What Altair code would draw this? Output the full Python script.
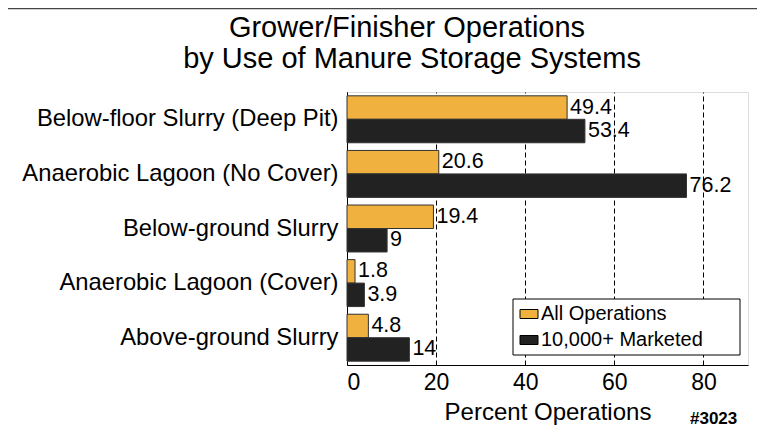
import altair as alt
import pandas as pd

categories = ["Below-floor Slurry (Deep Pit)", "Anaerobic Lagoon (No Cover)",
              "Below-ground Slurry", "Anaerobic Lagoon (Cover)", "Above-ground Slurry"]
series = ["All Operations", "10,000+ Marketed"]
all_ops = [49.4, 20.6, 19.4, 1.8, 4.8]
marketed = [53.4, 76.2, 9, 3.9, 14]
labels_all = ["49.4", "20.6", "19.4", "1.8", "4.8"]
labels_mkt = ["53.4", "76.2", "9", "3.9", "14"]
title_lines = ["Grower/Finisher Operations", "by Use of Manure Storage Systems"]
colors = ["#F0B13F", "#222222"]

rows = []
for c, a, m, la, lm in zip(categories, all_ops, marketed, labels_all, labels_mkt):
    rows.append({"cat": c, "series": series[0], "value": a, "label": la})
    rows.append({"cat": c, "series": series[1], "value": m, "label": lm})
df = pd.DataFrame(rows)

FONT = "Liberation Sans"

y_enc = alt.Y("cat:N", sort=categories, title=None,
              scale=alt.Scale(paddingInner=0.14, paddingOuter=0.07),
              axis=alt.Axis(labelFontSize=23.8, labelFont=FONT, labelColor="black",
                            ticks=False, labelPadding=9, domainColor="black",
                            labelLimit=400))
yoff = alt.YOffset("series:N", sort=series)

bars = alt.Chart(df).mark_bar(stroke="#333333", strokeWidth=1).encode(
    x=alt.X("value:Q", title="Percent Operations",
            scale=alt.Scale(domain=[0, 90], nice=False),
            axis=alt.Axis(values=[0, 20, 40, 60, 80], labelFontSize=23, labelFont=FONT,
                          labelColor="black", titleFontSize=24, titleFont=FONT,
                          titleFontWeight="normal", titleColor="black", titlePadding=6,
                          ticks=False, labelPadding=6, domainColor="black",
                          grid=True, gridColor="black", gridDash=[5, 3], gridWidth=1)),
    y=y_enc,
    yOffset=yoff,
    color=alt.Color("series:N", sort=series,
                    scale=alt.Scale(domain=series, range=colors),
                    legend=alt.Legend(title=None, orient="none", legendX=172, legendY=212,
                                      labelFontSize=20, labelFont=FONT, labelColor="black",
                                      labelLimit=400,
                                      symbolType="M-1,-0.5H1V0.5H-1Z", symbolSize=324,
                                      symbolStrokeColor="black", symbolStrokeWidth=1,
                                      padding=0, rowPadding=6, symbolOffset=0,
                                      labelOffset=2)),
)

texts = alt.Chart(df).mark_text(align="left", baseline="middle", dx=3, fontSize=21.5,
                                font=FONT, color="black").encode(
    x="value:Q",
    y=alt.Y("cat:N", sort=categories),
    yOffset=yoff,
    text="label:N",
)

legend_frame = alt.Chart(pd.DataFrame({"a": [0]})).mark_rect(
    fill="white", stroke="black", strokeWidth=1).encode(
    x=alt.value(166), x2=alt.value(393), y=alt.value(207), y2=alt.value(263))

topline = alt.Chart(pd.DataFrame({"a": [0]})).mark_rule(color="#444444", strokeWidth=1.5).encode(
    x=alt.value(-339), x2=alt.value(410), y=alt.value(-83.5))

title1 = alt.Chart(pd.DataFrame({"t": [title_lines[0]]})).mark_text(
    align="center", baseline="alphabetic", fontSize=29, font=FONT, color="black").encode(
    x=alt.value(60), y=alt.value(-55), text="t:N")
title2 = alt.Chart(pd.DataFrame({"t": [title_lines[1]]})).mark_text(
    align="center", baseline="alphabetic", fontSize=29, font=FONT, color="black").encode(
    x=alt.value(65), y=alt.value(-24), text="t:N")

ref = alt.Chart(pd.DataFrame({"t": ["#3023"]})).mark_text(
    align="left", baseline="alphabetic", fontSize=17, font=FONT, fontWeight="bold",
    color="black").encode(x=alt.value(343), y=alt.value(332), text="t:N")

chart = alt.layer(bars, texts, legend_frame, topline, title1, title2, ref).properties(
    width=401, height=273,
    autosize=alt.AutoSizeParams(type="none"),
    padding={"left": 339, "top": 84, "right": 9, "bottom": 64},
).configure_view(stroke="black", strokeWidth=1).configure(background="white")

chart.save("out.html", embed_options={"renderer": "svg", "actions": False})
